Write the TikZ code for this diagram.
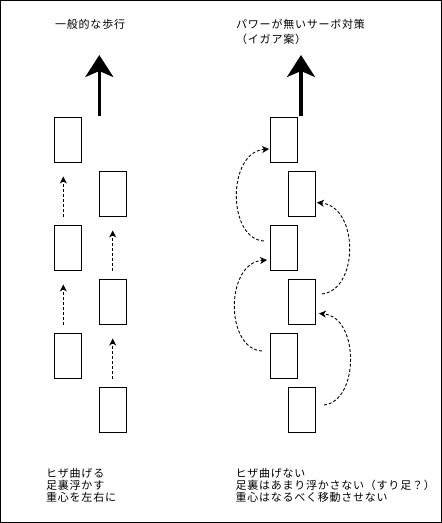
\documentclass[tikz,border=0pt]{standalone}
\usepackage{fontspec}
\newfontfamily\jp[LetterSpace=7]{Noto Sans CJK JP}
\usetikzlibrary{arrows.meta,calc}
\begin{document}
\begin{tikzpicture}[x=1pt,y=-1pt,
  foot/.style={draw=black,line width=0.9pt,minimum width=27pt,minimum height=45pt,inner sep=0pt,fill=white},
  lbl/.style={anchor=west,inner sep=0pt,font=\jp\fontsize{11}{12}\selectfont},
  dasharrow/.style={dashed,dash pattern=on 3pt off 2pt,line width=0.9pt,-{Stealth[length=7pt,width=7pt,inset=2pt]}},
  bigarrow/.style={line width=3.3pt,-{Stealth[length=22pt,width=28pt,inset=6pt]}}]
\useasboundingbox (0,0) rectangle (442,523);
\draw[line width=1pt] (0.5,0.5) rectangle (441.5,522.5);
% titles
\node[lbl] (t1) at (55,24) {一般的な歩行};
\node[lbl] (t2) at (236,24) {パワーが無いサーボ対策};
\node[lbl] (t3) at (236,39.5) {（イガア案）};
% big arrows
\coordinate (ba1s) at (99.3,116);
\coordinate (ba1e) at (99.3,55);
\coordinate (ba2s) at (301,116);
\coordinate (ba2e) at (301,55);
\draw[bigarrow] (ba1s) -- (ba1e);
\draw[bigarrow] (ba2s) -- (ba2e);
% left feet
\node[foot] (L1) at (68,139.5) {};
\node[foot] (R1) at (113,193.5) {};
\node[foot] (L2) at (68,247.5) {};
\node[foot] (R2) at (113,301.5) {};
\node[foot] (L3) at (68,355.5) {};
\node[foot] (R3) at (113,409.5) {};
% left arrows
\draw[dasharrow] ($(L2.north)+(-4.7,-8)$) -- ($(L1.south)+(-4.7,14)$);
\draw[dasharrow] ($(L3.north)+(-4.7,-8)$) -- ($(L2.south)+(-4.7,14)$);
\draw[dasharrow] ($(R2.north)+(-0.3,-8)$) -- ($(R1.south)+(-0.3,14)$);
\draw[dasharrow] ($(R3.north)+(-0.3,-8)$) -- ($(R2.south)+(-0.3,14)$);
% right feet
\node[foot] (A1) at (284,139.5) {};
\node[foot] (B1) at (302,193.5) {};
\node[foot] (A2) at (284,247.5) {};
\node[foot] (B2) at (302,301.5) {};
\node[foot] (A3) at (284,355.5) {};
\node[foot] (B3) at (302,409.5) {};
% curved arrows
\draw[dasharrow] ($(A2.west)+(-6,-6.5)$) .. controls (227,239) and (227,152) .. ($(A1.west)+(-1,9.5)$);
\draw[dasharrow] ($(A3.west)+(-8,-4.5)$) .. controls (225,349) and (225,263) .. ($(A2.west)+(-3,12.5)$);
\draw[dasharrow] ($(B2.east)+(6,-7.5)$) .. controls (359,290) and (359,207) .. ($(B1.east)+(1,9)$);
\draw[dasharrow] ($(B3.east)+(8,-4.5)$) .. controls (359.5,401) and (359.5,317) .. ($(B2.east)+(3,12)$);
% bottom texts
\node[lbl] (b1) at (46,473.3) {ヒザ曲げる};
\node[lbl] (b2) at (46,485.7) {足裏浮かす};
\node[lbl] (b3) at (46,497.5) {重心を左右に};
\node[lbl] (b4) at (235.3,473.3) {ヒザ曲げない};
\node[lbl] (b5) at (235.3,485.7) {足裏はあまり浮かさない（すり足？）};
\node[lbl] (b6) at (235.3,497.5) {重心はなるべく移動させない};
\end{tikzpicture}
\end{document}
